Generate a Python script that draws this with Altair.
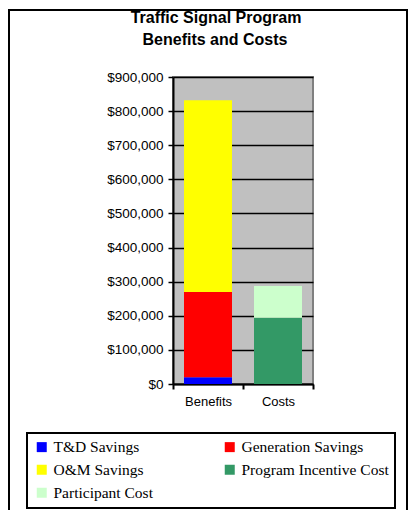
import altair as alt
import pandas as pd

categories = ["Benefits", "Benefits", "Benefits", "Costs", "Costs"]
components = ["T&D Savings", "Generation Savings", "O&M Savings",
              "Program Incentive Cost", "Participant Cost"]
values = [20000, 250000, 562000, 194000, 93000]
stack_order = [1, 2, 3, 1, 2]
colors = ["#0000FF", "#FF0000", "#FFFF00", "#339966", "#CCFFCC"]
# legend fills column by column: this order gives the reference's row-wise layout
legend_order = ["T&D Savings", "O&M Savings", "Participant Cost",
                "Generation Savings", "Program Incentive Cost"]
y_ticks = [0, 100000, 200000, 300000, 400000, 500000, 600000, 700000, 800000, 900000]
title_lines = ["Traffic Signal Program", "Benefits and Costs"]

color_of = dict(zip(components, colors))
legend_colors = [color_of[c] for c in legend_order]

df = pd.DataFrame({
    "category": categories,
    "component": components,
    "value": values,
    "ord": stack_order,
})

SANS = "Liberation Sans"
SERIF = "Liberation Serif"

bars = alt.Chart(df).mark_bar(size=48).encode(
    x=alt.X("category:N", sort=["Benefits", "Costs"],
            scale=alt.Scale(paddingInner=0, paddingOuter=0),
            axis=alt.Axis(title=None, labelAngle=0, tickBand="extent", grid=False,
                          domainColor="black", domainWidth=2, tickColor="black",
                          tickWidth=2, tickSize=5, labelPadding=6,
                          labelFont=SANS, labelFontSize=13, labelColor="black")),
    y=alt.Y("value:Q", stack="zero",
            scale=alt.Scale(domain=[0, 900000], nice=False),
            axis=alt.Axis(title=None, values=y_ticks, format="$,.0f",
                          grid=True, gridColor="black", gridWidth=1.5, gridOpacity=1,
                          domainColor="black", domainWidth=2, tickColor="black",
                          tickWidth=1.5, tickSize=5, labelPadding=5,
                          labelFont=SANS, labelFontSize=13.5, labelColor="black")),
    color=alt.Color("component:N",
                    scale=alt.Scale(domain=legend_order, range=legend_colors),
                    legend=alt.Legend(title=None, orient="none", legendX=-146, legendY=356,
                                      columns=2, columnPadding=68, rowPadding=6,
                                      padding=6, symbolOffset=1, labelOffset=4,
                                      symbolType="square", symbolSize=100,
                                      symbolStrokeWidth=0,
                                      labelFont=SERIF, labelFontSize=15.5,
                                      labelColor="black", labelLimit=300)),
    order=alt.Order("ord:Q", sort="ascending"),
)

border = alt.Chart(alt.Data(values=[{}])).mark_rect(
    fillOpacity=0, stroke="black", strokeWidth=2
).encode(
    x=alt.value(-164), x2=alt.value(234), y=alt.value(-67), y2=alt.value(450)
)

title1 = alt.Chart(alt.Data(values=[{"t": title_lines[0]}])).mark_text(
    font=SANS, fontSize=16, fontWeight="bold", color="black",
    align="center", baseline="middle"
).encode(text="t:N", x=alt.value(43), y=alt.value(-59))

title2 = alt.Chart(alt.Data(values=[{"t": title_lines[1]}])).mark_text(
    font=SANS, fontSize=16, fontWeight="bold", color="black",
    align="center", baseline="middle"
).encode(text="t:N", x=alt.value(42), y=alt.value(-37))

chart = alt.layer(border, bars, title1, title2).properties(
    width=140,
    height=307,
    autosize=alt.AutoSizeParams(type="none"),
    padding={"left": 165, "top": 69, "right": 96, "bottom": 126},
).configure_view(
    fill="#C0C0C0", stroke="#808080", strokeWidth=2
).configure_legend(
    strokeColor="black", strokeWidth=2, fillColor="white"
)

chart.save("out.html", embed_options={"renderer": "svg", "actions": False})
